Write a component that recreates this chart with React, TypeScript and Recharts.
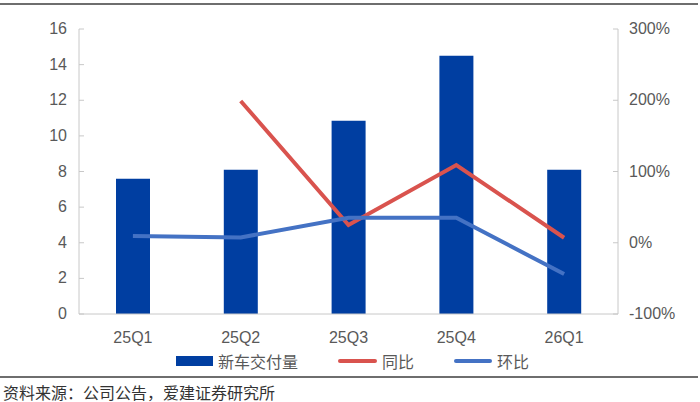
import { ComposedChart, Bar, Line, XAxis, YAxis, Legend } from 'recharts';

const quarters = ['25Q1', '25Q2', '25Q3', '25Q4', '26Q1'];
const deliveries = [7.6, 8.1, 10.85, 14.5, 8.1];
const yoy = [null, 199, 25, 109, 7];
const qoq = [9.5, 7.5, 35, 35, -44];
const leftTicks = [0, 2, 4, 6, 8, 10, 12, 14, 16];
const rightTicks = [-100, 0, 100, 200, 300];

const data = quarters.map((q, i) => ({
  q,
  deliveries: deliveries[i],
  yoy: yoy[i],
  qoq: qoq[i]
}));

const FONT = '"Liberation Sans", Arial, "Noto Sans CJK SC", sans-serif';
const GRAY = '#595959';
const AXIS = '#c8c8c8';
const BLUE_BAR = '#003EA1';
const RED = '#D9534E';
const BLUE_LINE = '#4472C4';

function LeftTick({ x, y, payload }: any) {
  const ax = x + 12;
  return (
    <g>
      <line x1={ax} x2={ax + 5} y1={y} y2={y} stroke={AXIS} />
      <text x={x} y={y} dy={5} textAnchor='end' fill={GRAY} fontSize={16} fontFamily={FONT}>
        {payload.value}
      </text>
    </g>
  );
}

function RightTick({ x, y, payload }: any) {
  const ax = x - 11;
  return (
    <g>
      <line x1={ax - 5} x2={ax} y1={y} y2={y} stroke={AXIS} />
      <text x={x} y={y} dy={5} textAnchor='start' fill={GRAY} fontSize={16} fontFamily={FONT}>
        {payload.value + '%'}
      </text>
    </g>
  );
}

function LegendBox() {
  const item = (swatch: any, label: string, gap: number) => (
    <div style={{ display: 'flex', alignItems: 'center', marginRight: gap }}>
      {swatch}
      <span style={{ marginLeft: 5, fontSize: 16, color: GRAY, fontFamily: FONT }}>{label}</span>
    </div>
  );
  return (
    <div style={{ display: 'flex', alignItems: 'center', paddingLeft: 176, paddingTop: 5 }}>
      {item(<div style={{ width: 37, height: 10, background: BLUE_BAR }} />, '新车交付量', 40)}
      {item(<div style={{ width: 39, height: 4, borderRadius: 2, background: RED }} />, '同比', 40)}
      {item(<div style={{ width: 38, height: 4, borderRadius: 2, background: BLUE_LINE }} />, '环比', 0)}
    </div>
  );
}

export default function App() {
  return (
    <div style={{ position: 'absolute', left: 0, top: 0, width: 700, height: 402, background: '#fff', fontFamily: FONT }}>
      <div style={{ position: 'absolute', left: 0, top: 3, width: 698, height: 2, background: '#6e6e6e' }} />
      <ComposedChart
        width={700}
        height={372}
        data={data}
        margin={{ top: 29, right: 0, bottom: 0, left: 0 }}
      >
        <XAxis
          dataKey='q'
          axisLine={{ stroke: AXIS }}
          tickLine={false}
          tick={{ fill: GRAY, fontSize: 16, fontFamily: FONT }}
          tickMargin={12}
          height={30}
        />
        <YAxis
          yAxisId='left'
          domain={[0, 16]}
          ticks={leftTicks}
          width={79}
          axisLine={{ stroke: AXIS }}
          tickLine={false}
          tickMargin={6}
          tick={<LeftTick />}
          interval={0}
        />
        <YAxis
          yAxisId='right'
          orientation='right'
          domain={[-100, 300]}
          ticks={rightTicks}
          width={82}
          axisLine={{ stroke: AXIS }}
          tickLine={false}
          tickMargin={5}
          tick={<RightTick />}
          interval={0}
        />
        <Legend verticalAlign='bottom' height={28} content={<LegendBox />} />
        <Bar yAxisId='left' dataKey='deliveries' fill={BLUE_BAR} barSize={34} isAnimationActive={false} />
        <Line
          yAxisId='right'
          dataKey='yoy'
          stroke={RED}
          strokeWidth={4}
          dot={false}
          type='linear'
          isAnimationActive={false}
        />
        <Line
          yAxisId='right'
          dataKey='qoq'
          stroke={BLUE_LINE}
          strokeWidth={4}
          dot={false}
          type='linear'
          isAnimationActive={false}
        />
      </ComposedChart>
      <div style={{ position: 'absolute', left: 0, top: 376, width: 698, height: 2, background: '#6e6e6e' }} />
      <div style={{ position: 'absolute', left: 3, top: 380, fontSize: 16, color: '#333', fontFamily: FONT, whiteSpace: 'nowrap' }}>
        资料来源：公司公告，爱建证券研究所
      </div>
    </div>
  );
}
